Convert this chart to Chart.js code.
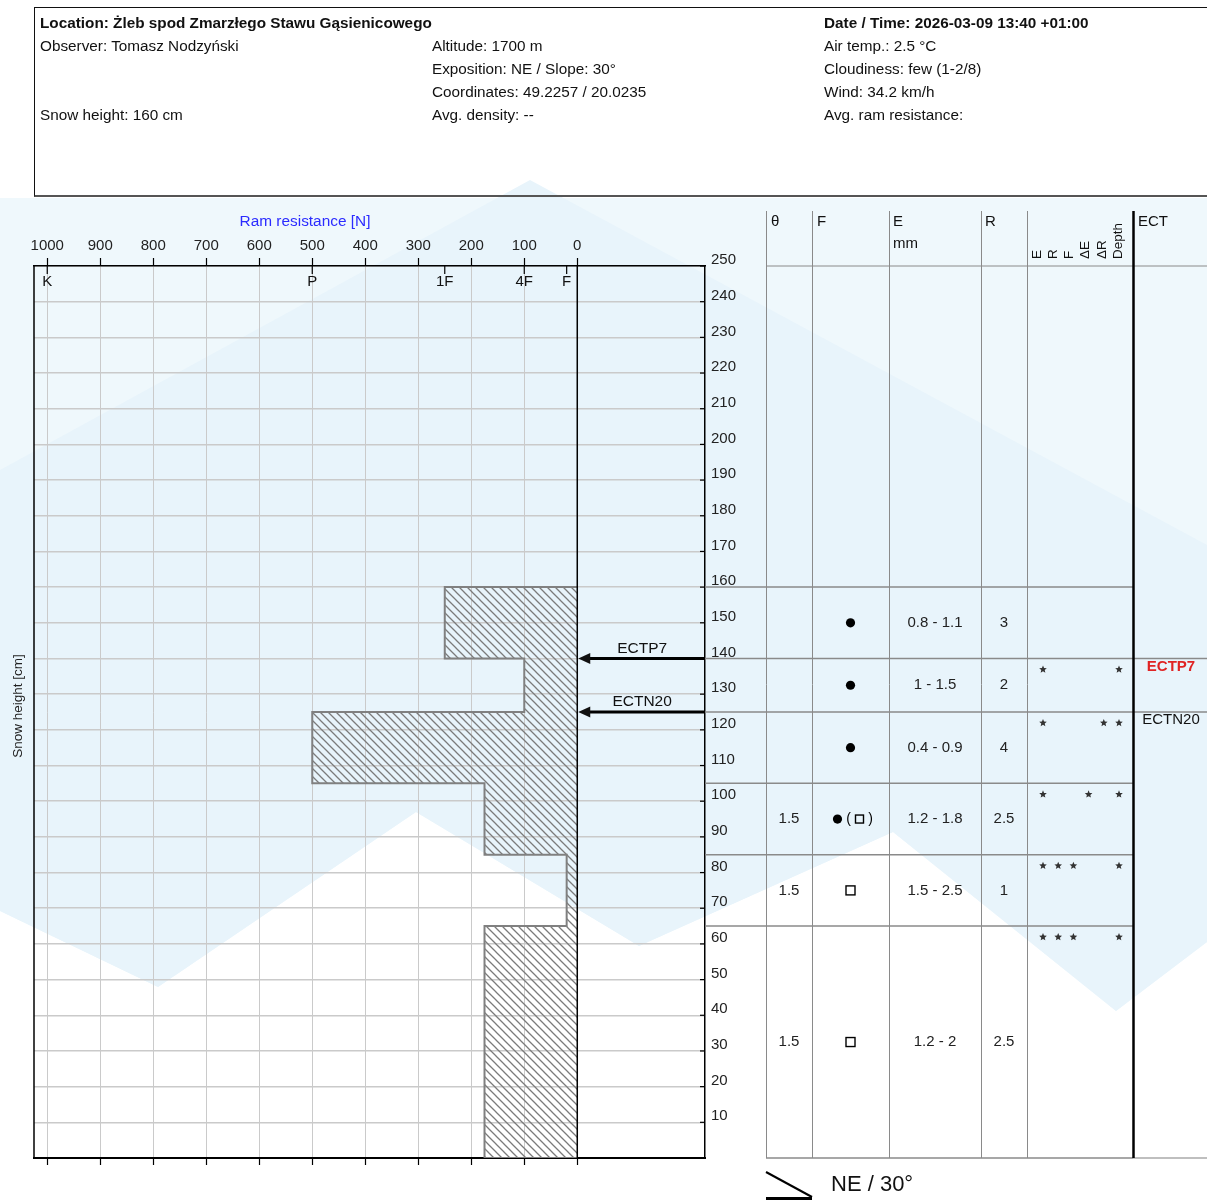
<!DOCTYPE html>
<html>
<head>
<meta charset="utf-8">
<title>Snow profile</title>
<script src="https://cdn.jsdelivr.net/npm/chart.js@4.4.1/dist/chart.umd.min.js"></script>
<style>
  html, body { margin: 0; padding: 0; background: #fff; }
  #page { position: relative; width: 1207px; height: 1200px; overflow: hidden;
          font-family: "Liberation Sans", Arial, sans-serif; color: #111; }
  #profile { position: absolute; left: 0; top: 0; }
  #head { position: absolute; left: 34px; top: 7px; width: 1200px; height: 187px;
          border-top: 1.5px solid #111; border-left: 1px solid #111; border-bottom: 2px solid #555; }
  .t { position: absolute; font-size: 15.3px; line-height: 16px; white-space: nowrap; color: #111; }
  .b { font-weight: bold; }
</style>
</head>
<body>
<div id="page">
  <canvas id="profile" width="1207" height="1200"></canvas>
  <div id="head"></div>
  <div class="t b" style="left:40px;top:15px">Location: Żleb spod Zmarzłego Stawu Gąsienicowego</div>
  <div class="t" style="left:40px;top:38px">Observer: Tomasz Nodzyński</div>
  <div class="t" style="left:40px;top:107px">Snow height: 160 cm</div>
  <div class="t" style="left:432px;top:38px">Altitude: 1700 m</div>
  <div class="t" style="left:432px;top:61px">Exposition: NE / Slope: 30°</div>
  <div class="t" style="left:432px;top:84px">Coordinates: 49.2257 / 20.0235</div>
  <div class="t" style="left:432px;top:107px">Avg. density: --</div>
  <div class="t b" style="left:824px;top:15px">Date / Time: 2026-03-09 13:40 +01:00</div>
  <div class="t" style="left:824px;top:38px">Air temp.: 2.5 °C</div>
  <div class="t" style="left:824px;top:61px">Cloudiness: few (1-2/8)</div>
  <div class="t" style="left:824px;top:84px">Wind: 34.2 km/h</div>
  <div class="t" style="left:824px;top:107px">Avg. ram resistance:</div>
</div>
<script>
// ---- layers, top to bottom (heights in cm) ----
const layerTop      = [160, 140, 125, 105, 85, 65];
const layerBottom   = [140, 125, 105, 85, 65, 0];
const handHardness  = ['1F', '4F', 'P', '4F-1F', 'F', '4F-1F'];
const ramResistance = [250, 100, 500, 175, 20, 175];      // N
const thetaValues   = ['', '', '', '1.5', '1.5', '1.5'];
const grainForms    = ['RG', 'RG', 'RG', 'RG(FC)', 'FC', 'FC'];
const grainSizes    = ['0.8 - 1.1', '1 - 1.5', '0.4 - 0.9', '1.2 - 1.8', '1.5 - 2.5', '1.2 - 2'];
const rValues       = ['3', '2', '4', '2.5', '1', '2.5'];

// structural threshold flags per layer: E, R, F, ΔE, ΔR, Depth
const thresholdNames = ['E', 'R', 'F', 'ΔE', 'ΔR', 'Depth'];
const thresholdFlags = [
  [0, 0, 0, 0, 0, 0],
  [1, 0, 0, 0, 0, 1],
  [1, 0, 0, 0, 1, 1],
  [1, 0, 0, 1, 0, 1],
  [1, 1, 1, 0, 0, 1],
  [1, 1, 1, 0, 0, 1]
];

// extended column tests
const ectHeights    = [140, 125];
const ectResults    = ['ECTP7', 'ECTN20'];
const ectPropagated = [true, false];

// axis ticks
const ramTicks        = [1000, 900, 800, 700, 600, 500, 400, 300, 200, 100, 0];
const hardnessLabels  = ['K', 'P', '1F', '4F', 'F'];
const hardnessNewtons = [1000, 500, 250, 100, 20];

const slopeText = 'NE / 30°';

// stepped ram profile, bottom to top, closed against the 0 N line
const profilePoints = [{ x: 0, y: layerBottom[layerBottom.length - 1] }];
for (let i = layerTop.length - 1; i >= 0; i--) {
  profilePoints.push({ x: ramResistance[i], y: layerBottom[i] });
  profilePoints.push({ x: ramResistance[i], y: layerTop[i] });
}
profilePoints.push({ x: 0, y: layerTop[0] });

// diagonal hatch used for the profile fill
function hatchPattern(ctx) {
  const c = document.createElement('canvas');
  c.width = 8; c.height = 8;
  const g = c.getContext('2d');
  g.strokeStyle = '#7b7b7b';
  g.lineWidth = 1.3;
  g.beginPath();
  g.moveTo(-2, -2); g.lineTo(10, 10);
  g.moveTo(-2, 6);  g.lineTo(2, 10);
  g.moveTo(6, -2);  g.lineTo(10, 2);
  g.stroke();
  return ctx.createPattern(c, 'repeat');
}

const FONT = '"Liberation Sans", Arial, sans-serif';
const FS = 15;
const COLS = [766, 812, 889, 981, 1027, 1133];
const TABLE_RIGHT = 1207;
const HEAD_TOP = 211;

function star(c, cx, cy, r) {
  c.beginPath();
  for (let k = 0; k < 10; k++) {
    const rad = k % 2 === 0 ? r : r * 0.45;
    const a = -Math.PI / 2 + k * Math.PI / 5;
    const px = cx + rad * Math.cos(a), py = cy + rad * Math.sin(a);
    k === 0 ? c.moveTo(px, py) : c.lineTo(px, py);
  }
  c.closePath();
  c.fill();
}

function grainSymbol(c, code, cx, cy) {
  c.save();
  c.fillStyle = '#000'; c.strokeStyle = '#000'; c.lineWidth = 1.4;
  const dot = x => { c.beginPath(); c.arc(x, cy, 4.6, 0, Math.PI * 2); c.fill(); };
  const box = (x, s) => { c.strokeRect(x - s / 2, cy - s / 2, s, s); };
  if (code === 'RG') dot(cx);
  else if (code === 'FC') box(cx, 9);
  else if (code === 'RG(FC)') {
    dot(cx - 13);
    c.font = '14px ' + FONT; c.textAlign = 'center'; c.textBaseline = 'middle';
    c.fillText('(', cx - 2, cy);
    box(cx + 9, 8);
    c.fillText(')', cx + 20, cy);
  }
  c.restore();
}

const decor = {
  id: 'decor',
  beforeDraw(chart) {
    const c = chart.ctx;
    c.save();
    // pale mountain backdrop
    c.fillStyle = '#eff8fc';
    c.beginPath();
    c.moveTo(0, 198); c.lineTo(1207, 198);
    c.lineTo(1207, 942); c.lineTo(1116, 1011); c.lineTo(893, 832); c.lineTo(639, 946);
    c.lineTo(416, 812); c.lineTo(158, 987); c.lineTo(0, 911);
    c.closePath(); c.fill();
    c.fillStyle = '#e8f4fb';
    c.beginPath();
    c.moveTo(0, 470); c.lineTo(530, 180); c.lineTo(1207, 545);
    c.lineTo(1207, 942); c.lineTo(1116, 1011); c.lineTo(893, 832); c.lineTo(639, 946);
    c.lineTo(416, 812); c.lineTo(158, 987); c.lineTo(0, 911);
    c.closePath(); c.fill();
    c.restore();
  },
  afterDatasetsDraw(chart) {
    const c = chart.ctx, a = chart.chartArea;
    const xs = chart.scales.x, ys = chart.scales.y;
    c.save();
    // 0 N line and frame
    c.strokeStyle = '#000';
    c.lineWidth = 1.5;
    const x0 = xs.getPixelForValue(0);
    c.beginPath(); c.moveTo(x0, a.top); c.lineTo(x0, a.bottom); c.stroke();
    c.beginPath(); c.moveTo(a.left, a.top); c.lineTo(a.left, a.bottom); c.stroke();
    // inward height ticks
    c.lineWidth = 1.2;
    ys.ticks.forEach(t => {
      const py = ys.getPixelForValue(t.value);
      c.beginPath(); c.moveTo(a.right - 5, py); c.lineTo(a.right, py); c.stroke();
    });
    // hand hardness marks
    c.fillStyle = '#111';
    c.font = FS + 'px ' + FONT; c.textAlign = 'center'; c.textBaseline = 'middle';
    hardnessNewtons.forEach((n, i) => {
      const px = xs.getPixelForValue(n);
      c.beginPath(); c.moveTo(px, a.top); c.lineTo(px, a.top + 8); c.stroke();
      c.fillText(hardnessLabels[i], px, a.top + 16);
    });
    // ECT arrows
    ectHeights.forEach((h, i) => {
      const py = ys.getPixelForValue(h);
      c.lineWidth = 3;
      c.beginPath(); c.moveTo(a.right, py); c.lineTo(x0 + 10, py); c.stroke();
      c.beginPath(); c.moveTo(x0 + 1, py); c.lineTo(x0 + 13, py - 5.5); c.lineTo(x0 + 13, py + 5.5);
      c.closePath(); c.fill();
      c.font = '15.5px ' + FONT;
      c.fillText(ectResults[i], (x0 + a.right) / 2 + 1, py - 10);
    });
    c.restore();
  },
  afterDraw(chart) {
    const c = chart.ctx, a = chart.chartArea, ys = chart.scales.y;
    const py = v => ys.getPixelForValue(v);
    c.save();
    // axis titles
    c.font = '15.4px ' + FONT; c.textAlign = 'center'; c.textBaseline = 'middle';
    c.fillStyle = '#2b2bff';
    c.fillText('Ram resistance [N]', 305, 222);
    c.fillStyle = '#222';
    c.save();
    c.translate(18, (a.top + a.bottom) / 2 - 6);
    c.rotate(-Math.PI / 2);
    c.font = '13.5px ' + FONT;
    c.fillText('Snow height [cm]', 0, 0);
    c.restore();

    // table grid
    const headBottom = py(250);
    c.strokeStyle = '#8a8a8a';
    c.lineWidth = 1;
    COLS.slice(0, 5).forEach(x => {
      c.beginPath(); c.moveTo(x + 0.5, HEAD_TOP); c.lineTo(x + 0.5, a.bottom); c.stroke();
    });
    c.beginPath(); c.moveTo(COLS[0], headBottom); c.lineTo(TABLE_RIGHT, headBottom); c.stroke();
    c.lineWidth = 1.5;
    layerTop.forEach(t => {
      c.beginPath(); c.moveTo(a.right, py(t)); c.lineTo(COLS[5], py(t)); c.stroke();
    });
    ectHeights.forEach(h => {
      c.beginPath(); c.moveTo(COLS[5], py(h)); c.lineTo(TABLE_RIGHT, py(h)); c.stroke();
    });
    c.beginPath(); c.moveTo(COLS[0], a.bottom); c.lineTo(COLS[5], a.bottom); c.stroke();
    c.strokeStyle = '#aaa';
    c.beginPath(); c.moveTo(COLS[5], a.bottom); c.lineTo(TABLE_RIGHT, a.bottom); c.stroke();
    c.strokeStyle = '#000'; c.lineWidth = 2.5;
    c.beginPath(); c.moveTo(COLS[5] + 0.5, HEAD_TOP); c.lineTo(COLS[5] + 0.5, a.bottom); c.stroke();

    // table header
    c.fillStyle = '#111';
    c.font = FS + 'px ' + FONT; c.textAlign = 'left'; c.textBaseline = 'middle';
    c.fillText('θ', COLS[0] + 5, 222);
    c.fillText('F', COLS[1] + 5, 222);
    c.fillText('E', COLS[2] + 4, 222);
    c.fillText('mm', COLS[2] + 4, 244);
    c.fillText('R', COLS[3] + 4, 222);
    c.fillText('ECT', COLS[5] + 5, 222);
    c.font = '13.5px ' + FONT;
    thresholdNames.forEach((n, i) => {
      c.save();
      c.translate(1037 + i * 16.2, 259);
      c.rotate(-Math.PI / 2);
      c.textAlign = 'left';
      c.fillText(n, 0, 0);
      c.restore();
    });

    // layer rows
    c.font = FS + 'px ' + FONT; c.textAlign = 'center';
    layerTop.forEach((t, i) => {
      const cy = py((t + layerBottom[i]) / 2);
      c.fillStyle = '#222';
      if (thetaValues[i]) c.fillText(thetaValues[i], (COLS[0] + COLS[1]) / 2, cy);
      c.fillText(grainSizes[i], (COLS[2] + COLS[3]) / 2, cy);
      c.fillText(rValues[i], (COLS[3] + COLS[4]) / 2, cy);
      grainSymbol(c, grainForms[i], (COLS[1] + COLS[2]) / 2, cy);
      c.fillStyle = '#333';
      thresholdFlags[i].forEach((f, k) => {
        if (f) star(c, 1043 + k * 15.2, py(t) + 11, 4);
      });
    });

    // ECT results
    ectHeights.forEach((h, i) => {
      c.font = (ectPropagated[i] ? 'bold ' : '') + FS + 'px ' + FONT;
      c.fillStyle = ectPropagated[i] ? '#e02424' : '#111';
      c.fillText(ectResults[i], 1171, py(h) + 8);
    });

    // slope sketch
    c.strokeStyle = '#000'; c.lineWidth = 2;
    c.beginPath(); c.moveTo(766, 1172); c.lineTo(812, 1197); c.stroke();
    c.lineWidth = 3;
    c.beginPath(); c.moveTo(766, 1198.5); c.lineTo(812, 1198.5); c.stroke();
    c.font = '22px ' + FONT; c.textAlign = 'left'; c.fillStyle = '#111';
    c.fillText(slopeText, 831, 1185);
    c.restore();
  }
};

const ctx = document.getElementById('profile').getContext('2d');
const ramRange = { min: -241, max: 1025 };

new Chart(ctx, {
  type: 'line',
  data: {
    datasets: [{
      label: 'Ram resistance',
      data: profilePoints,
      borderColor: '#808080',
      borderWidth: 2,
      backgroundColor: hatchPattern(ctx),
      fill: 'origin',
      pointRadius: 0,
      tension: 0
    }]
  },
  options: {
    indexAxis: 'y',
    responsive: false,
    animation: false,
    devicePixelRatio: 1,
    events: [],
    layout: { padding: { left: 34, right: 442, top: 226, bottom: 30 } },
    plugins: { legend: { display: false }, tooltip: { enabled: false } },
    scales: {
      x: {
        type: 'linear', position: 'top', reverse: true,
        min: ramRange.min, max: ramRange.max,
        afterBuildTicks: s => { s.ticks = ramTicks.map(v => ({ value: v })); },
        afterFit: s => { s.height = 40; },
        ticks: {
          color: '#222', font: { size: FS, family: FONT }, padding: 3, maxRotation: 0, autoSkip: false,
          callback: v => String(v)
        },
        grid: {
          color: c => (c.tick && c.tick.value === 0) ? '#000' : '#cacaca',
          lineWidth: 1, tickLength: 8, tickColor: '#000', tickWidth: 1.2
        },
        border: { display: true, color: '#000', width: 1.5 }
      },
      x2: {
        type: 'linear', axis: 'x', position: 'bottom', reverse: true,
        min: ramRange.min, max: ramRange.max,
        afterBuildTicks: s => { s.ticks = ramTicks.map(v => ({ value: v })); },
        afterFit: s => { s.height = 12; },
        ticks: { display: false },
        grid: { drawOnChartArea: false, tickLength: 7, tickColor: '#000', tickWidth: 1.2 },
        border: { display: true, color: '#000', width: 2 }
      },
      y: {
        type: 'linear', position: 'right', min: 0, max: 250,
        afterFit: s => { s.width = 60; },
        ticks: {
          stepSize: 10, autoSkip: false, padding: 6, labelOffset: -6,
          color: '#222', font: { size: FS, family: FONT },
          callback: v => (v === 0 ? '' : String(v))
        },
        grid: { color: '#cacaca', lineWidth: 1.5, drawTicks: false },
        border: { display: true, color: '#000', width: 1.5 }
      }
    }
  },
  plugins: [decor]
});
</script>
</body>
</html>
